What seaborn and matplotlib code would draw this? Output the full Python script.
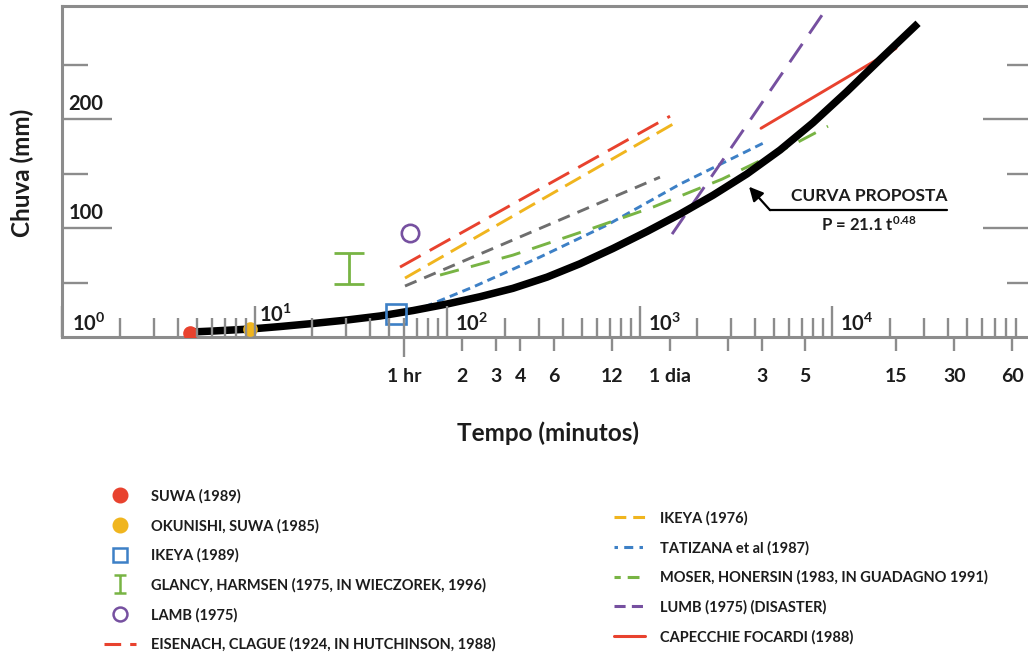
import numpy as np
import pandas as pd
import matplotlib
matplotlib.use("Agg")
import matplotlib.pyplot as plt
import matplotlib.transforms as mtransforms
from matplotlib.lines import Line2D
from matplotlib.path import Path
from matplotlib.ticker import FixedLocator, NullLocator, LogLocator, NullFormatter
import seaborn as sns

# ---------------- data (time in minutes, rain in mm) ----------------
curve_t = [4.72, 6.09, 9.48, 13.57, 20.1, 30.2, 44.9, 66.6, 100, 148.4, 220, 331,
           491, 728, 1094, 1623, 2409, 3616, 5370, 7966, 11960, 17760, 27980]
curve_p = [4.6, 5.5, 7.3, 9.6, 12.4, 15.6, 19.3, 24.3, 30.3, 37.0, 44.7, 55.0,
           67.3, 81.3, 96.9, 112.9, 130.2, 149.8, 171.7, 196.8, 225.5, 254.9, 288.1]

suwa_t, suwa_p = [4.62], [3.7]
okunishi_t, okunishi_p = [9.48], [7.3]
ikeya89_t, ikeya89_p = [54.3], [21.1]
glancy_t, glancy_low, glancy_high = [31.0], [48.6], [77.4]
lamb_t, lamb_p = [64.2], [95.4]

eisenach_t, eisenach_p = [57.0, 1440], [64.2, 202.8]
ikeya76_t, ikeya76_p = [60.5, 1585], [54.1, 198.2]
gray_t, gray_p = [60.5, 1277], [46.8, 146.8]
tatizana_t = [65.8, 136.5, 304, 678, 1623, 4385]
tatizana_p = [22.9, 45.9, 73.4, 102.8, 140.4, 178.0]
moser_t = [92, 220, 573, 1175, 2685, 6050, 9530]
moser_p = [56.9, 75.2, 100.0, 119.3, 145.0, 175.2, 193.6]
lumb_t, lumb_p = [1476, 9530], [94.5, 303.7]
capecchie_t, capecchie_p = [4276, 21500], [191.7, 265.1]

hour_ticks = [60, 120, 180, 240, 360, 720, 1440, 2880, 4320, 7200, 21600, 43200, 86400]
hour_labels = ["1 hr", "2", "3", "4", "6", "12", "1 dia", "", "3", "5", "15", "30", "60"]
decades = [1, 10, 100, 1000, 10000]
decade_labels = [r"$\mathbf{10^{0}}$", r"$\mathbf{10^{1}}$", r"$\mathbf{10^{2}}$",
                 r"$\mathbf{10^{3}}$", r"$\mathbf{10^{4}}$"]
y_labels = [100, 200]

legend_left = ["SUWA (1989)", "OKUNISHI, SUWA (1985)", "IKEYA (1989)",
               "GLANCY, HARMSEN (1975, IN WIECZOREK, 1996)", "LAMB (1975)",
               "EISENACH, CLAGUE (1924, IN HUTCHINSON, 1988)"]
legend_right = ["IKEYA (1976)", "TATIZANA et al (1987)",
                "MOSER, HONERSIN (1983, IN GUADAGNO 1991)",
                "LUMB (1975) (DISASTER)", "CAPECCHIE FOCARDI (1988)"]

# ---------------- style ----------------
RED = "#e8422e"
YEL = "#f0b51e"
BLUE = "#3d80c6"
GREEN = "#78b444"
PURPLE = "#7650a0"
DGRAY = "#6e6e6e"
AXGRAY = "#8c8c8c"
TXT = "#1c1c1c"

sns.set_theme(style="white")
plt.rcParams["font.family"] = ["Lato", "DejaVu Sans"]
plt.rcParams["lines.scale_dashes"] = False
plt.rcParams["mathtext.fontset"] = "custom"
plt.rcParams["mathtext.rm"] = "Lato:bold"
plt.rcParams["mathtext.bf"] = "Lato:bold"
plt.rcParams["mathtext.it"] = "Lato:italic"

fig = plt.figure(figsize=(10.28, 6.53), dpi=100)
ax = fig.add_axes([62 / 1028, 1 - 337 / 653, 966 / 1028, 331 / 653])
ax.set_xscale("log")
XLIM = (1, 10 ** 5.018)
YLIM = (0, 304)
ax.set_xlim(*XLIM)
ax.set_ylim(*YLIM)

ax_d = ax.twiny()
ax_r = ax.twinx()

# ---------------- lines ----------------
def line(t, p, color, dashes=None, lw=2.0, z=2, **extra):
    kw = dict(x=t, y=p, ax=ax, color=color, linewidth=lw, sort=False,
              estimator=None, legend=False, zorder=z)
    if dashes is not None:
        kw["linestyle"] = (0, dashes)
    kw.update(extra)
    sns.lineplot(**kw)

EIS_D = (17, 7.5)
IK_D = (13, 6)
GR_D = (9, 6)
TAT_D = (6, 3.8)
MOS_D = (14, 9)
LUM_D = (16, 9)

line(eisenach_t, eisenach_p, RED, EIS_D, lw=2.1)
line(ikeya76_t, ikeya76_p, YEL, IK_D, lw=2.1)
line(gray_t, gray_p, DGRAY, GR_D, lw=2.1)
line(tatizana_t, tatizana_p, BLUE, TAT_D, lw=2.1)
line(moser_t, moser_p, GREEN, MOS_D, lw=2.1)
line(lumb_t, lumb_p, PURPLE, LUM_D, lw=2.1)
line(capecchie_t, capecchie_p, RED, None, lw=2.1)
line(curve_t, curve_p, "black", None, lw=5.4, z=3, solid_joinstyle="round",
     solid_capstyle="butt")

# ---------------- markers ----------------
ax.plot(suwa_t, suwa_p, "o", ms=9.5, mfc=RED, mec=RED, zorder=5)
ax.plot(okunishi_t, okunishi_p, "o", ms=9.5, mfc=YEL, mec=YEL, zorder=5)
ax.plot(ikeya89_t, ikeya89_p, "s", ms=14.5, mfc="none", mec=BLUE, mew=1.9, zorder=5)
ax.plot(lamb_t, lamb_p, "o", ms=12.5, mfc="none", mec=PURPLE, mew=1.9, zorder=5)
gl_mid = [(a + b) / 2 for a, b in zip(glancy_low, glancy_high)]
gl_err = [[m - a for m, a in zip(gl_mid, glancy_low)], [b - m for m, b in zip(gl_mid, glancy_high)]]
ax.errorbar(glancy_t, gl_mid, yerr=gl_err, fmt="none", ecolor=GREEN, elinewidth=2.0,
            capsize=11, capthick=2.0, zorder=5)

# ---------------- spines / ticks ----------------
for s in ["top", "left", "bottom"]:
    ax.spines[s].set_color(AXGRAY)
    ax.spines[s].set_linewidth(2.2)
ax.spines["right"].set_visible(False)
for a in (ax_d, ax_r):
    for s in a.spines.values():
        s.set_visible(False)

ax.xaxis.set_major_locator(FixedLocator(hour_ticks))
ax.xaxis.set_minor_locator(NullLocator())
ax.set_xticklabels(hour_labels)
ax.tick_params(axis="x", which="major", bottom=True, top=False, direction="out",
               length=10, width=1.7, color=AXGRAY, pad=12.5, labelsize=14, labelcolor=TXT)
ax.xaxis.get_major_ticks()[0].tick1line.set_markersize(14.5)
for lab in ax.get_xticklabels():
    lab.set_fontweight("bold")

ax.yaxis.set_major_locator(FixedLocator([100, 200]))
ax.yaxis.set_minor_locator(FixedLocator([50, 150, 250]))
ax.yaxis.set_major_formatter(NullFormatter())
ax.tick_params(axis="y", which="major", left=True, right=False, direction="in",
               length=36, width=1.7, color=AXGRAY, labelleft=False)
ax.tick_params(axis="y", which="minor", left=True, right=False, direction="in",
               length=18.7, width=1.7, color=AXGRAY)

ax_r.set_ylim(*YLIM)
ax_r.yaxis.set_major_locator(FixedLocator([100, 200]))
ax_r.yaxis.set_minor_locator(FixedLocator([50, 150, 250]))
ax_r.tick_params(axis="y", which="major", right=True, left=False, direction="in",
                 length=32.4, width=1.7, color=AXGRAY, labelright=False, labelleft=False)
ax_r.tick_params(axis="y", which="minor", right=True, left=False, direction="in",
                 length=15, width=1.7, color=AXGRAY)

ax_d.set_xscale("log")
ax_d.set_xlim(*XLIM)
ax_d.xaxis.set_ticks_position("bottom")
ax_d.xaxis.set_major_locator(FixedLocator(decades))
ax_d.xaxis.set_minor_locator(LogLocator(base=10, subs=np.arange(2, 10), numticks=20))
ax_d.xaxis.set_major_formatter(NullFormatter())
ax_d.xaxis.set_minor_formatter(NullFormatter())
ax_d.tick_params(axis="x", which="major", bottom=True, top=False, direction="in",
                 length=22, width=1.7, color=AXGRAY, labelbottom=False, labeltop=False)
ax_d.tick_params(axis="x", which="minor", bottom=True, top=False, direction="in",
                 length=13.7, width=1.7, color=AXGRAY)

# ---------------- in-plot labels ----------------
blend = mtransforms.blended_transform_factory(ax.transAxes, ax.transData)
for v in y_labels:
    ax.annotate(str(v), xy=(0, v), xycoords=blend, xytext=(4.5, 4), textcoords="offset points",
                ha="left", va="bottom", fontsize=14.5, fontweight="bold", color=TXT)

dec_off = [(7, 4.5), (3, 11), (6, 4.5), (6, 4.5), (6, 4.5)]
for d, lab, off in zip(decades, decade_labels, dec_off):
    ax.annotate(lab, xy=(d, 0), xycoords="data", xytext=off, textcoords="offset points",
                ha="left", va="baseline", fontsize=14.5, color=TXT)

# proposed curve annotation
ax.plot([4764, 39560], [116.5, 116.5], color="black", lw=1.6, zorder=4)
ax.annotate("", xy=(3706, 138), xytext=(4764, 116.5),
            arrowprops=dict(arrowstyle="-|>,head_length=0.7,head_width=0.35", color="black", lw=1.6,
                            shrinkA=0, shrinkB=0))
ax.text(15560, 124.5, "CURVA PROPOSTA", ha="center", va="baseline", fontsize=12.5,
        fontweight="bold", color=TXT)
ax.text(15560, 103.5, r"P = 21.1 t$^{\mathbf{0.48}}$", ha="center", va="center",
        fontsize=12, fontweight="bold", color=TXT)

fig.text(548 / 1028, 1 - 433 / 653, "Tempo (minutos)", ha="center", va="center",
         fontsize=17.5, fontweight="bold", color=TXT)
fig.text(22 / 1028, 1 - 173 / 653, "Chuva (mm)", ha="center", va="center", rotation=90,
         fontsize=17.5, fontweight="bold", color=TXT)

# ---------------- legends ----------------
glancy_marker = Path([(-1, -1.5), (1, -1.5), (0, -1.5), (0, 1.5), (-1, 1.5), (1, 1.5)],
                     [Path.MOVETO, Path.LINETO, Path.MOVETO, Path.LINETO, Path.MOVETO, Path.LINETO])
h_left = [
    Line2D([], [], ls="none", marker="o", ms=10.5, mfc=RED, mec=RED),
    Line2D([], [], ls="none", marker="o", ms=10.5, mfc=YEL, mec=YEL),
    Line2D([], [], ls="none", marker="s", ms=10, mfc="none", mec=BLUE, mew=1.8),
    Line2D([], [], ls="none", marker=glancy_marker, ms=13, mfc="none", mec=GREEN, mew=1.8),
    Line2D([], [], ls="none", marker="o", ms=10, mfc="none", mec=PURPLE, mew=1.8),
    Line2D([], [], color=RED, lw=2.2, ls=(0, (12, 6.5))),
]
h_right = [
    Line2D([], [], color=YEL, lw=2.2, ls=(0, (8.5, 5))),
    Line2D([], [], color=BLUE, lw=2.2, ls=(0, (2.5, 4.5, 6.5, 4.5))),
    Line2D([], [], color=GREEN, lw=2.2, ls=(4, (8.5, 5))),
    Line2D([], [], color=PURPLE, lw=2.2, ls=(0, (8, 4.5, 8, 4.5, 2, 5))),
    Line2D([], [], color=RED, lw=2.2),
]
common = dict(loc="upper left", bbox_transform=fig.transFigure, frameon=False,
              borderpad=0, borderaxespad=0, handletextpad=1.05, labelspacing=1.04,
              prop=dict(family="Lato", weight="bold", size=10.5), labelcolor=TXT)
leg1 = fig.legend(h_left, legend_left, bbox_to_anchor=(104 / 1028, 1 - 489 / 653),
                  handlelength=2.2, **common)
leg2 = fig.legend(h_right, legend_right, bbox_to_anchor=(614 / 1028, 1 - 511 / 653),
                  handlelength=2.1, **common)

fig.savefig("out.png", dpi=100)
